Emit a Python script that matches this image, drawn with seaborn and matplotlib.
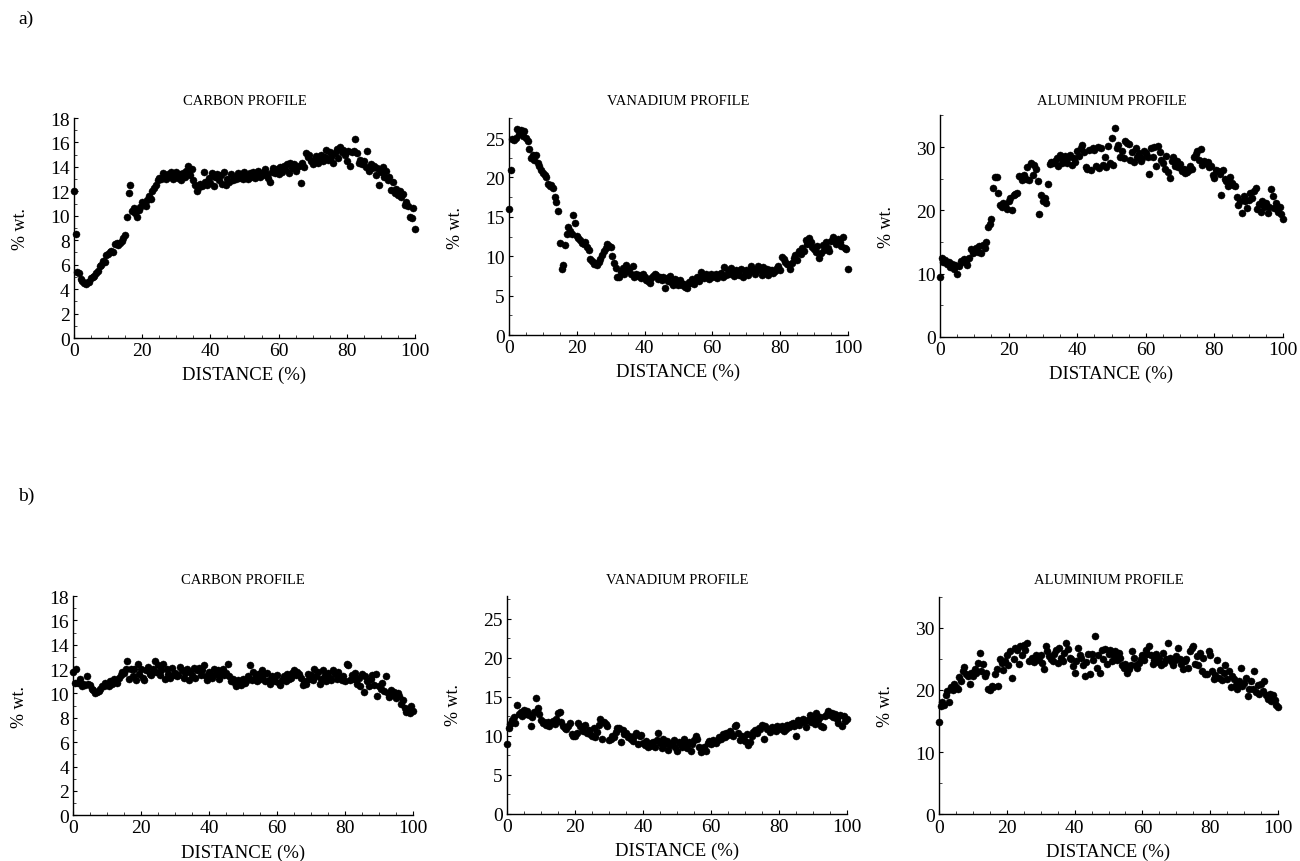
import numpy as np
import pandas as pd
import matplotlib
matplotlib.use("Agg")
import matplotlib.pyplot as plt
import seaborn as sns
from matplotlib.ticker import MultipleLocator

# ---------------- data ----------------
carbon_a = [
    12.0, 8.5, 5.4, 5.3, 4.8, 4.7, 4.5, 4.4, 4.6, 4.6,
    4.9, 5.0, 5.1, 5.3, 5.5, 5.9, 6.0, 6.3, 6.2, 6.8,
    6.9, 7.0, 7.1, 7.0, 7.7, 7.8, 7.6, 7.8, 7.9, 8.2,
    8.4, 9.9, 11.9, 12.5, 10.4, 10.6, 10.2, 9.9, 10.5, 10.7,
    11.1, 11.0, 10.8, 11.3, 11.6, 11.4, 12.0, 12.3, 12.5, 12.9,
    13.1, 13.0, 13.5, 13.3, 13.0, 13.4, 13.2, 13.6, 13.0, 13.3,
    13.6, 13.1, 13.4, 12.9, 13.5, 13.2, 13.7, 14.1, 13.3, 13.8,
    12.9, 12.5, 12.0, 12.3, 12.6, 12.4, 13.6, 12.8, 12.5, 13.1,
    12.7, 13.5, 12.4, 13.2, 13.4, 12.9, 13.3, 12.6, 13.6, 12.5,
    13.0, 12.8, 13.4, 12.9, 13.2, 13.0, 13.5, 13.1, 13.4, 13.0,
    13.6, 13.2, 13.0, 13.5, 13.2, 13.6, 13.1, 13.4, 13.7, 13.2,
    13.5, 13.3, 13.8, 13.4, 13.1, 12.8, 13.6, 13.9, 13.5, 13.8,
    13.4, 14.0, 13.6, 14.1, 13.8, 14.2, 13.5, 14.3, 13.9, 14.2,
    13.7, 14.0, 14.1, 12.7, 14.3, 14.0, 15.1, 14.8, 15.0, 14.5,
    14.2, 14.6, 14.9, 14.3, 14.7, 15.0, 14.5, 14.8, 15.4, 14.6,
    15.2, 14.8, 14.3, 15.1, 15.5, 14.7, 15.6, 15.2, 15.4, 15.0,
    14.5, 15.3, 14.1, 15.2, 15.3, 16.3, 15.1, 14.3, 14.6, 14.2,
    14.5, 14.0, 15.3, 13.7, 14.2, 13.9, 14.1, 13.3, 13.9, 12.5,
    13.6, 14.0, 13.2, 13.7, 12.9, 13.2, 12.1, 12.8, 11.9, 12.2,
    11.7, 12.0, 11.5, 11.8, 10.9, 11.1, 10.8, 9.9, 9.8, 10.6,
    8.9]

vanadium_a = [
    16.0, 20.9, 24.9, 24.8, 25.0, 26.1, 25.5, 26.0, 25.2, 25.9,
    25.0, 24.6, 23.6, 22.5, 22.9, 22.2, 22.8, 21.8, 21.5, 21.0,
    20.6, 20.3, 20.0, 19.1, 18.9, 19.0, 18.7, 17.5, 16.9, 15.7,
    11.7, 8.4, 8.9, 11.4, 12.8, 13.7, 13.2, 12.8, 15.2, 14.2,
    12.6, 12.3, 12.0, 11.7, 11.5, 11.8, 11.2, 10.8, 9.6, 9.4,
    9.0, 9.2, 8.9, 9.3, 9.7, 10.2, 10.6, 11.0, 11.5, 11.3,
    11.2, 10.0, 9.2, 8.5, 7.4, 7.3, 8.0, 8.5, 7.7, 8.9,
    8.2, 8.4, 7.8, 8.8, 7.4, 7.8, 7.5, 7.6, 7.2, 7.8,
    7.3, 7.0, 6.8, 6.6, 7.2, 7.5, 7.8, 7.6, 7.1, 7.4,
    7.0, 7.4, 6.0, 7.2, 6.8, 7.5, 6.6, 6.4, 7.1, 6.9,
    6.3, 7.0, 6.4, 6.5, 6.1, 6.0, 6.7, 6.6, 7.1, 6.5,
    7.0, 7.3, 6.9, 8.0, 7.4, 7.2, 7.7, 7.5, 7.1, 7.8,
    7.3, 7.5, 7.8, 7.2, 7.6, 7.9, 7.4, 8.6, 7.6, 8.2,
    7.8, 8.5, 7.7, 7.5, 8.3, 8.0, 7.6, 8.4, 7.4, 7.8,
    8.2, 7.6, 8.1, 8.7, 8.4, 7.8, 8.3, 8.8, 8.2, 7.6,
    8.6, 8.0, 8.4, 7.6, 8.2, 8.3, 7.9, 8.1, 8.5, 8.8,
    8.3, 9.9, 9.6, 9.3, 9.0, 8.9, 8.4, 9.2, 9.8, 10.2,
    9.5, 10.7, 10.3, 11.0, 10.6, 12.0, 11.5, 12.3, 11.8, 11.2,
    10.9, 10.5, 11.3, 9.8, 10.4, 11.4, 10.8, 11.8, 11.1, 10.6,
    11.9, 12.4, 12.0, 11.5, 12.2, 11.8, 11.3, 12.5, 11.0, 10.9,
    8.4]

aluminium_a = [
    9.5, 12.4, 11.8, 12.2, 11.5, 11.9, 11.0, 11.6, 10.8, 11.4,
    9.9, 11.2, 12.0, 11.8, 12.3, 11.8, 11.4, 12.5, 13.9, 13.2,
    13.6, 14.1, 13.5, 14.4, 13.2, 14.5, 14.0, 15.0, 17.3, 17.8,
    18.6, 23.6, 25.2, 25.3, 22.8, 20.8, 20.5, 21.2, 20.8, 20.2,
    21.5, 22.0, 20.0, 22.4, 22.6, 22.8, 25.5, 25.2, 24.8, 25.6,
    25.0, 26.8, 24.8, 27.5, 25.6, 27.2, 26.6, 24.6, 19.5, 22.5,
    21.5, 22.0, 21.2, 24.2, 27.3, 27.6, 27.5, 27.8, 28.3, 27.0,
    28.8, 27.4, 28.1, 28.6, 27.5, 28.4, 28.8, 27.2, 28.2, 27.6,
    29.4, 28.6, 29.8, 30.3, 29.2, 26.8, 26.5, 29.5, 26.4, 29.8,
    29.6, 27.0, 30.0, 26.7, 29.8, 27.2, 28.5, 26.9, 30.1, 27.5,
    31.4, 27.2, 33.0, 29.8, 30.3, 28.5, 29.3, 28.2, 31.0, 30.7,
    30.5, 28.0, 29.2, 27.6, 29.8, 28.4, 29.0, 27.8, 28.3, 29.4,
    29.1, 28.5, 25.7, 29.8, 28.5, 30.0, 27.0, 30.2, 29.2, 28.0,
    27.5, 26.6, 28.6, 26.0, 25.1, 27.8, 28.4, 27.0, 27.8, 26.9,
    27.3, 26.2, 26.6, 25.9, 26.0, 26.3, 27.0, 26.5, 28.5, 28.9,
    29.4, 28.0, 29.7, 27.2, 27.8, 27.4, 27.6, 26.8, 27.0, 25.6,
    25.1, 26.4, 26.2, 25.8, 22.4, 26.3, 25.0, 24.6, 23.9, 25.2,
    24.3, 24.0, 23.9, 22.1, 20.9, 21.5, 19.6, 22.3, 21.4, 20.4,
    21.7, 22.8, 22.0, 23.0, 23.5, 20.2, 21.0, 19.8, 21.5, 20.6,
    21.2, 19.6, 20.6, 23.4, 22.2, 20.4, 21.1, 19.8, 20.6, 19.4,
    18.7]

carbon_b = [
    11.8, 10.9, 12.0, 10.9, 11.2, 10.6, 10.8, 10.7, 11.4, 10.8,
    10.7, 10.4, 10.3, 10.0, 10.1, 10.2, 10.4, 10.6, 10.6, 10.9,
    10.8, 10.6, 11.0, 10.8, 11.2, 11.0, 10.9, 11.3, 11.5, 11.8,
    11.7, 12.0, 12.7, 11.2, 12.0, 11.4, 12.0, 11.1, 12.4, 11.6,
    12.0, 11.3, 11.1, 11.9, 12.2, 11.6, 11.5, 12.0, 12.7, 11.8,
    12.3, 11.5, 11.9, 12.4, 11.2, 12.0, 11.6, 11.3, 12.1, 11.5,
    11.7, 11.4, 11.5, 12.2, 11.9, 11.3, 11.7, 12.0, 11.1, 11.8,
    11.5, 12.1, 11.3, 11.9, 12.1, 11.5, 11.9, 12.3, 11.4, 11.1,
    11.8, 11.5, 11.3, 12.0, 11.6, 11.9, 11.2, 11.7, 12.0, 11.5,
    11.7, 12.4, 11.4, 11.0, 11.2, 10.9, 10.6, 11.1, 10.8, 10.7,
    11.2, 10.9, 11.0, 11.4, 12.3, 11.1, 11.8, 11.3, 11.0, 11.6,
    11.2, 11.9, 11.5, 11.0, 11.7, 11.1, 10.8, 11.4, 11.3, 11.0,
    11.5, 10.9, 10.7, 11.1, 11.4, 11.0, 11.6, 11.2, 11.3, 11.7,
    11.9, 11.5, 11.8, 11.6, 11.3, 10.7, 11.0, 10.8, 11.6, 11.2,
    11.5, 11.1, 12.0, 11.4, 11.8, 10.8, 11.2, 11.9, 11.5, 11.0,
    11.7, 11.3, 11.1, 11.9, 11.6, 11.2, 11.8, 11.3, 11.1, 11.4,
    11.0, 12.4, 12.3, 11.1, 11.5, 11.2, 11.7, 10.8, 11.3, 10.6,
    11.6, 10.1, 11.4, 11.0, 10.6, 11.2, 11.5, 10.7, 11.6, 9.8,
    10.6, 10.4, 10.9, 10.2, 11.4, 10.0, 9.7, 10.3, 9.9, 10.1,
    9.6, 10.0, 9.8, 9.1, 9.5, 8.8, 8.5, 8.7, 8.4, 9.0,
    8.6]

vanadium_b = [
    8.9, 11.0, 11.5, 12.0, 12.4, 11.6, 13.9, 12.8, 13.0, 12.5,
    13.3, 12.8, 13.2, 12.6, 11.2, 12.4, 13.0, 14.8, 13.5, 12.8,
    12.0, 11.6, 11.8, 11.4, 11.8, 11.3, 11.6, 11.9, 11.5, 12.1,
    12.9, 13.0, 11.8, 11.2, 11.0, 10.8, 11.3, 11.6, 10.2, 9.9,
    10.0, 10.3, 11.6, 11.3, 11.0, 10.6, 11.4, 10.4, 10.7, 10.2,
    10.0, 11.0, 9.8, 10.5, 11.4, 12.2, 9.6, 11.8, 11.5, 11.2,
    9.4, 9.6, 10.0, 9.8, 10.5, 11.0, 11.0, 9.2, 10.7, 10.2,
    10.4, 9.8, 10.0, 9.6, 9.3, 9.9, 10.3, 8.9, 9.9, 10.1,
    9.0, 8.8, 9.3, 8.6, 8.7, 9.0, 9.2, 8.6, 9.4, 10.3,
    9.0, 8.4, 9.6, 8.9, 9.3, 8.2, 8.8, 9.1, 9.4, 8.6,
    8.1, 9.2, 9.0, 8.5, 9.6, 8.8, 8.4, 9.2, 8.1, 8.9,
    9.4, 10.0, 9.6, 8.5, 7.9, 8.3, 8.6, 8.0, 9.1, 9.3,
    8.9, 9.4, 9.2, 9.0, 9.5, 9.8, 9.6, 10.2, 9.8, 10.4,
    10.1, 10.6, 10.4, 9.9, 11.2, 11.4, 10.3, 9.4, 10.0, 9.7,
    9.3, 10.2, 8.8, 9.2, 10.0, 10.5, 10.7, 10.4, 11.0, 10.8,
    11.4, 9.6, 11.2, 10.9, 10.8, 10.5, 11.1, 10.9, 10.6, 11.3,
    11.0, 10.8, 11.2, 10.6, 10.8, 11.4, 11.1, 11.5, 11.6, 11.3,
    9.9, 12.0, 11.4, 11.9, 12.2, 11.7, 11.1, 12.0, 12.6, 11.8,
    12.3, 11.5, 12.9, 12.0, 12.4, 11.2, 11.1, 12.5, 12.8, 13.2,
    12.7, 12.9, 12.4, 12.8, 12.1, 11.6, 12.7, 11.3, 12.5, 11.9,
    12.1]

aluminium_b = [
    14.9, 17.5, 18.0, 17.6, 19.2, 19.8, 18.1, 20.4, 20.0, 21.0,
    20.5, 20.2, 22.1, 21.4, 23.0, 23.7, 22.6, 22.2, 21.0, 22.8,
    22.2, 23.4, 22.8, 24.4, 25.9, 23.0, 24.2, 22.2, 22.8, 20.2,
    20.0, 20.6, 20.4, 22.5, 23.4, 20.6, 25.0, 24.4, 23.2, 24.6,
    25.6, 24.0, 26.2, 22.0, 25.0, 26.8, 26.4, 24.2, 27.0, 25.6,
    27.2, 26.4, 27.5, 24.6, 24.8, 25.2, 24.5, 25.6, 25.0, 24.8,
    25.6, 24.4, 23.4, 27.0, 26.2, 25.4, 25.0, 24.6, 25.8, 26.4,
    24.4, 26.8, 25.2, 24.6, 26.0, 27.6, 26.6, 25.2, 25.0, 23.8,
    22.8, 24.6, 26.8, 25.6, 25.2, 24.0, 22.2, 24.5, 25.8, 22.6,
    25.8, 24.8, 28.7, 23.6, 25.6, 22.8, 26.4, 25.0, 26.6, 24.2,
    25.8, 26.4, 24.6, 25.4, 26.2, 24.8, 26.0, 25.2, 24.0, 23.6,
    24.2, 22.8, 23.4, 24.0, 26.2, 25.2, 24.0, 23.6, 24.4, 25.0,
    25.6, 24.8, 26.4, 25.8, 27.0, 25.6, 24.2, 24.8, 25.8, 24.5,
    25.2, 24.0, 26.0, 24.4, 25.0, 27.5, 25.2, 24.6, 24.0, 24.8,
    25.4, 26.8, 25.0, 24.2, 23.4, 24.6, 25.0, 23.6, 26.2, 26.8,
    27.0, 24.2, 25.4, 24.0, 26.0, 23.0, 25.2, 22.6, 22.6, 26.2,
    25.6, 23.0, 21.8, 22.4, 24.8, 22.0, 23.2, 21.6, 22.8, 24.0,
    21.8, 23.0, 20.4, 22.2, 21.8, 20.8, 20.2, 21.4, 23.6, 20.6,
    21.2, 22.0, 19.0, 20.2, 21.4, 20.2, 23.1, 19.6, 20.8, 19.4,
    21.0, 19.8, 21.4, 19.2, 18.6, 19.4, 18.2, 19.2, 18.4, 17.6,
    17.2]

titles = ["CARBON PROFILE", "VANADIUM PROFILE", "ALUMINIUM PROFILE"]
row_labels = ["a)", "b)"]
x_ticks = [0, 20, 40, 60, 80, 100]

# ---------------- style ----------------
sns.set_theme(style="ticks")
plt.rcParams["font.family"] = ["Liberation Serif", "DejaVu Serif"]
plt.rcParams["axes.linewidth"] = 1.0

fig = plt.figure(figsize=(13, 8.62), dpi=100)
fig.patch.set_facecolor("white")

panels = [
    # (values, left, bottom, width, height, ymax, ymajor, yminor)
    (carbon_a,    0.0569, 0.6067, 0.2623, 0.2552, 18,   2, 1),
    (vanadium_a,  0.3915, 0.6102, 0.2608, 0.2514, 27.5, 5, 2.5),
    (aluminium_a, 0.7231, 0.6079, 0.2638, 0.2571, 35,   10, 5),
    (carbon_b,    0.0562, 0.0530, 0.2615, 0.2544, 18,   2, 1),
    (vanadium_b,  0.3900, 0.0550, 0.2615, 0.2530, 28,   5, 2.5),
    (aluminium_b, 0.7223, 0.0540, 0.2608, 0.2527, 35,   10, 5),
]

for i, (vals, l, b, w, h, ymax, ymaj, ymin) in enumerate(panels):
    ax = fig.add_axes([l, b, w, h])
    df = pd.DataFrame({"distance": np.linspace(0, 100, len(vals)), "wt": vals})
    sns.scatterplot(data=df, x="distance", y="wt", ax=ax, color="black",
                    s=26, edgecolor="black", linewidth=0.3, legend=False,
                    clip_on=False)
    ax.set_xlim(0, 100)
    ax.set_ylim(0, ymax)
    ax.set_xticks(x_ticks)
    ax.xaxis.set_minor_locator(MultipleLocator(5))
    ax.yaxis.set_major_locator(MultipleLocator(ymaj))
    ax.yaxis.set_minor_locator(MultipleLocator(ymin))
    ax.tick_params(which="major", direction="in", length=3, width=0.8,
                   labelsize=14, pad=3, colors="black")
    ax.tick_params(which="minor", direction="in", length=2, width=0.6)
    for side in ["top", "right"]:
        ax.spines[side].set_visible(False)
    for side in ["left", "bottom"]:
        ax.spines[side].set_color("black")
    ax.set_xlabel("DISTANCE (%)", fontsize=13.5, labelpad=5, color="black")
    ax.set_ylabel("% wt.", fontsize=13, labelpad=15, color="black")
    ax.set_facecolor("white")
    ax.grid(False)
    # panel title
    row = i // 3
    ty = 0.8817 if row == 0 else 0.3270
    fig.text(l + w / 2, ty, titles[i % 3], ha="center", va="center",
             fontsize=10.5, color="black")

fig.text(0.014, 0.977, row_labels[0], ha="left", va="center", fontsize=14, color="black")
fig.text(0.014, 0.424, row_labels[1], ha="left", va="center", fontsize=14, color="black")

fig.savefig("out.png", dpi=100, facecolor="white")
